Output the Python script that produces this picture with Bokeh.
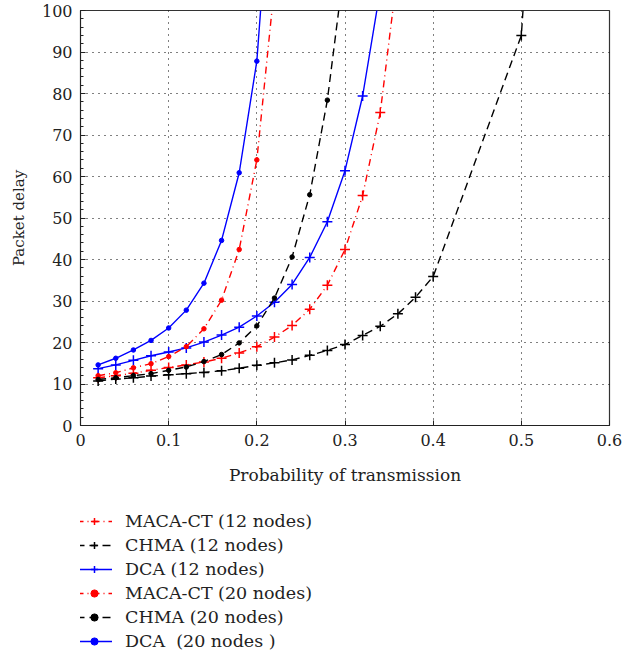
from bokeh.plotting import figure
from bokeh.layouts import column
from bokeh.models import Legend, LegendItem, FixedTicker, Range1d
from bokeh.embed import file_html
from bokeh.resources import INLINE

x12 = [0.02, 0.04, 0.06, 0.08, 0.10, 0.12, 0.14, 0.16, 0.18, 0.20, 0.22, 0.24,
       0.26, 0.28, 0.30, 0.32, 0.34, 0.36]
maca12 = [11.5, 12.0, 12.6, 13.3, 14.0, 14.6, 15.3, 16.2, 17.5, 19.0, 21.3, 24.1,
          28.0, 33.8, 42.4, 55.4, 75.4, 110.0]

xchma12 = [0.02, 0.04, 0.06, 0.08, 0.10, 0.12, 0.14, 0.16, 0.18, 0.20, 0.22, 0.24,
           0.26, 0.28, 0.30, 0.32, 0.34, 0.36, 0.38, 0.40, 0.50, 0.52]
chma12 = [10.7, 11.2, 11.5, 11.9, 12.2, 12.5, 12.8, 13.2, 13.8, 14.5, 15.1, 15.8,
          16.9, 18.1, 19.5, 21.7, 23.9, 26.9, 30.9, 35.9, 94.0, 158.0]

xdca12 = [0.02, 0.04, 0.06, 0.08, 0.10, 0.12, 0.14, 0.16, 0.18, 0.20, 0.22, 0.24,
          0.26, 0.28, 0.30, 0.32, 0.34]
dca12 = [13.7, 14.6, 15.7, 16.8, 17.7, 18.7, 20.1, 21.8, 23.7, 26.4, 29.7, 34.0,
         40.5, 49.1, 61.4, 79.4, 105.0]

xmaca20 = [0.02, 0.04, 0.06, 0.08, 0.10, 0.12, 0.14, 0.16, 0.18, 0.20, 0.22]
maca20 = [12.0, 12.7, 13.9, 14.9, 16.6, 19.0, 23.3, 30.2, 42.4, 64.0, 106.0]

xchma20 = [0.02, 0.04, 0.06, 0.08, 0.10, 0.12, 0.14, 0.16, 0.18, 0.20, 0.22, 0.24,
           0.26, 0.28, 0.30]
chma20 = [11.1, 11.5, 12.0, 12.5, 13.3, 14.1, 15.4, 17.1, 19.9, 24.0, 30.7, 40.6,
          55.6, 78.4, 112.0]

xdca20 = [0.02, 0.04, 0.06, 0.08, 0.10, 0.12, 0.14, 0.16, 0.18, 0.20, 0.22]
dca20 = [14.6, 16.2, 18.2, 20.5, 23.5, 27.8, 34.3, 44.6, 60.9, 87.8, 145.0]

x_ticks = [0, 0.1, 0.2, 0.3, 0.4, 0.5, 0.6]
x_tick_labels = ["0", "0.1", "0.2", "0.3", "0.4", "0.5", "0.6"]
y_ticks = [0, 10, 20, 30, 40, 50, 60, 70, 80, 90, 100]

FONT = "DejaVu Serif"

p = figure(frame_width=529, frame_height=415, output_backend="svg", toolbar_location=None,
           x_range=Range1d(0, 0.6), y_range=Range1d(0, 100),
           min_border_left=80, min_border_right=29, min_border_top=10,
           min_border_bottom=65)
p.outline_line_color = "#333333"
p.outline_line_width = 1.2

for ax in (p.xaxis[0], p.yaxis[0]):
    ax.major_tick_in = 5
    ax.major_tick_out = 0
    ax.minor_tick_out = 0
    ax.minor_tick_in = 3
    ax.axis_line_color = "#222222"
    ax.major_tick_line_color = "#222222"
    ax.minor_tick_line_color = "#222222"
    ax.major_label_text_font = FONT
    ax.major_label_text_font_size = "16px"
    ax.major_label_text_color = "#222222"
    ax.axis_label_text_font = FONT
    ax.axis_label_text_font_style = "normal"
    ax.axis_label_text_color = "#222222"

p.xaxis.ticker = FixedTicker(ticks=x_ticks)
p.xaxis.major_label_overrides = {t: l for t, l in zip(x_ticks, x_tick_labels)}
p.xaxis.minor_tick_line_color = None
p.xaxis.major_label_standoff = 8
p.xaxis.axis_label = "Probability of transmission"
p.xaxis.axis_label_text_font_size = "17px"
p.xaxis.axis_label_standoff = 16

p.yaxis.ticker = FixedTicker(ticks=y_ticks, minor_ticks=list(range(0, 101, 2)))
p.yaxis.major_label_standoff = 8
p.yaxis.axis_label = "Packet delay"
p.yaxis.axis_label_text_font_size = "15px"
p.yaxis.axis_label_standoff = 11

p.xgrid.ticker = FixedTicker(ticks=x_ticks)
p.ygrid.ticker = FixedTicker(ticks=y_ticks)
for g in (p.xgrid[0], p.ygrid[0]):
    g.grid_line_color = "black"
    g.grid_line_dash = "1 5"
    g.grid_line_width = 1

LW = 1.4
RED, BLACK, BLUE = "#ff0000", "#000000", "#0000ff"
DASHDOT = "7 4 1 4"
DASH = "8 5"

series = [
    ("MACA-CT (12 nodes)", x12, maca12, RED, DASHDOT, "cross"),
    ("CHMA (12 nodes)", xchma12, chma12, BLACK, DASH, "cross"),
    ("DCA (12 nodes)", xdca12, dca12, BLUE, "solid", "cross"),
    ("MACA-CT (20 nodes)", xmaca20, maca20, RED, DASHDOT, "dot"),
    ("CHMA (20 nodes)", xchma20, chma20, BLACK, DASH, "dot"),
    ("DCA  (20 nodes )", xdca20, dca20, BLUE, "solid", "dot"),
]

# legend-only figure below the chart (its own glyphs are out of its visible range)
lf = figure(width=638, height=160, output_backend="svg", toolbar_location=None,
            x_range=Range1d(5, 6), y_range=Range1d(500, 600),
            x_axis_type=None, y_axis_type=None,
            min_border_left=0, min_border_right=0, min_border_top=0, min_border_bottom=0)
lf.outline_line_color = None
lf.xgrid.visible = False
lf.ygrid.visible = False

items = []
for label, xs, ys, col, dash, mk in series:
    for fig in (p, lf):
        r1 = fig.line(xs, ys, line_color=col, line_width=LW, line_dash=dash)
        if mk == "cross":
            r2 = fig.scatter(xs, ys, marker="cross", size=10, line_color=col, line_width=1.5)
        else:
            r2 = fig.scatter(xs, ys, marker="circle", size=4.5, fill_color=col, line_color=col)
    items.append(LegendItem(label=label, renderers=[r1, r2]))

legend = Legend(items=items, location=(-4, -1), orientation="vertical")
legend.border_line_color = None
legend.background_fill_alpha = 0
legend.label_text_font = FONT
legend.label_text_font_size = "17.5px"
legend.label_text_color = "#222222"
legend.label_height = 18
legend.glyph_height = 18
legend.glyph_width = 36
legend.spacing = 4
legend.label_standoff = 13
legend.padding = 4
legend.margin = 0
lf.add_layout(legend)

layout = column(p, lf, spacing=0)
open("out.html", "w").write(file_html(layout, INLINE))
